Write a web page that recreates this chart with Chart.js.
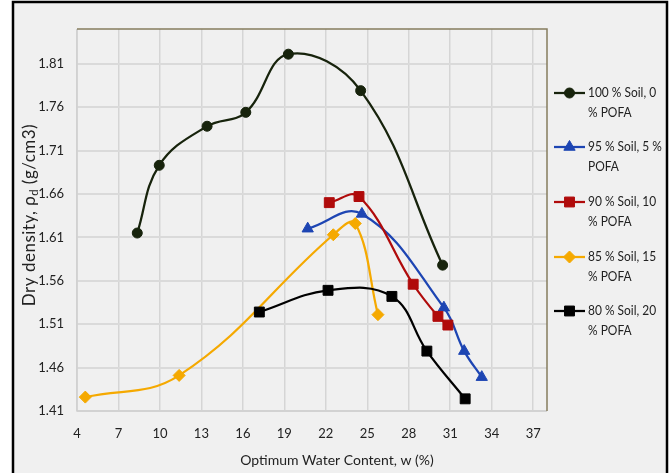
<!DOCTYPE html>
<html>
<head>
<meta charset="utf-8">
<script src="https://cdn.jsdelivr.net/npm/chart.js@4.4.1/dist/chart.umd.min.js"></script>
<style>
  html, body { margin: 0; padding: 0; background: #ffffff; }
  #wrap { width: 672px; height: 473px; position: relative; }
</style>
</head>
<body>
<div id="wrap"><canvas id="c" width="672" height="473"></canvas></div>
<script>
// Compaction curves: optimum water content (%) vs dry density (g/cm3)
const seriesLabels = [
  '100 % Soil, 0 % POFA',
  '95 % Soil, 5 % POFA',
  '90 % Soil, 10 % POFA',
  '85 % Soil, 15 % POFA',
  '80 % Soil, 20 % POFA'
];
// Legend text, broken where the legend wraps it
const legendLines = [
  ['100 % Soil, 0', '% POFA'],
  ['95 % Soil, 5 %', 'POFA'],
  ['90 % Soil, 10', '% POFA'],
  ['85 % Soil, 15', '% POFA'],
  ['80 % Soil, 20', '% POFA']
];

const soil100X = [8.36, 9.95, 13.41, 16.21, 19.29, 24.52, 30.45];
const soil100Y = [1.615, 1.693, 1.738, 1.754, 1.821, 1.779, 1.578];

const soil95X = [20.69, 24.61, 30.54, 32.01, 33.28];
const soil95Y = [1.620, 1.637, 1.529, 1.479, 1.449];

const soil90X = [22.25, 24.40, 28.32, 30.11, 30.83];
const soil90Y = [1.650, 1.657, 1.556, 1.519, 1.509];

const soil85X = [4.60, 11.39, 22.54, 24.13, 25.77];
const soil85Y = [1.426, 1.451, 1.613, 1.626, 1.521];

const soil80X = [17.19, 22.16, 26.78, 29.31, 32.08];
const soil80Y = [1.524, 1.549, 1.542, 1.479, 1.424];

const xTicks = [4, 7, 10, 13, 16, 19, 22, 25, 28, 31, 34, 37];
const yTicks = [1.41, 1.46, 1.51, 1.56, 1.61, 1.66, 1.71, 1.76, 1.81];

const xTitle = 'Optimum Water Content, w (%)';

const FONT = 'Lato, "Open Sans", "DejaVu Sans", sans-serif';
const TEXT = '#222222';

function pts(xs, ys) { return xs.map((x, i) => ({ x: x, y: ys[i] })); }

const styles = [
  { color: '#17230c', pointStyle: 'circle',   radius: 5 },
  { color: '#1d45b3', pointStyle: 'triangle', radius: 6.5 },
  { color: '#b00b0b', pointStyle: 'rect',     radius: 7 },
  { color: '#f5a900', pointStyle: 'rectRot',  radius: 6 },
  { color: '#000000', pointStyle: 'rect',     radius: 7 }
];
const seriesData = [
  pts(soil100X, soil100Y),
  pts(soil95X, soil95Y),
  pts(soil90X, soil90Y),
  pts(soil85X, soil85Y),
  pts(soil80X, soil80Y)
];

const datasets = seriesData.map((d, i) => ({
  label: seriesLabels[i],
  data: d,
  showLine: true,
  borderColor: styles[i].color,
  backgroundColor: styles[i].color,
  pointBackgroundColor: styles[i].color,
  pointBorderColor: styles[i].color,
  pointBorderWidth: 1,
  pointStyle: styles[i].pointStyle,
  pointRadius: styles[i].radius,
  pointHoverRadius: styles[i].radius,
  borderWidth: 2.25,
  tension: 0.4,
  order: 4 - i
}));

// Frame, plot border, axis titles and the two-line legend
const decorations = {
  id: 'decorations',
  beforeDraw(chart) {
    const ctx = chart.ctx;
    ctx.save();
    ctx.fillStyle = '#ffffff';
    ctx.fillRect(0, 0, chart.width, chart.height);
    ctx.fillStyle = '#f0f0f0';
    ctx.fillRect(13, 2, 654, chart.height);
    ctx.restore();
  },
  afterDatasetsDraw(chart) {
    const ctx = chart.ctx;
    const a = chart.chartArea;
    ctx.save();
    // plot border: light axis lines left/bottom, olive edges top/right
    ctx.lineWidth = 1.5;
    ctx.strokeStyle = '#cfcfcf';
    ctx.beginPath();
    ctx.moveTo(a.left, a.top);
    ctx.lineTo(a.left, a.bottom);
    ctx.lineTo(a.right, a.bottom);
    ctx.stroke();
    ctx.strokeStyle = '#857c5e';
    ctx.beginPath();
    ctx.moveTo(a.left, a.top);
    ctx.lineTo(a.right, a.top);
    ctx.lineTo(a.right, a.bottom);
    ctx.stroke();
    ctx.restore();
  },
  afterDraw(chart) {
    const ctx = chart.ctx;
    ctx.save();
    // outer frame
    ctx.strokeStyle = '#000000';
    ctx.lineWidth = 2.5;
    ctx.beginPath();
    ctx.moveTo(13, chart.height + 5);
    ctx.lineTo(13, 2);
    ctx.lineTo(667, 2);
    ctx.lineTo(667, chart.height + 5);
    ctx.stroke();

    // x axis title
    ctx.fillStyle = TEXT;
    ctx.font = '14px ' + FONT;
    ctx.textAlign = 'center';
    ctx.textBaseline = 'middle';
    ctx.fillText(xTitle, 337, 460);

    // y axis title with subscript d
    ctx.save();
    ctx.translate(30, 215);
    ctx.rotate(-Math.PI / 2);
    ctx.letterSpacing = '0.5px';
    const partA = 'Dry density, \u03C1';
    const partB = 'd';
    const partC = ' (g/cm3)';
    ctx.font = '17px ' + FONT;
    const wA = ctx.measureText(partA).width;
    const wC = ctx.measureText(partC).width;
    ctx.font = '11px ' + FONT;
    const wB = ctx.measureText(partB).width;
    const total = wA + wB + wC;
    const x0 = -total / 2;
    ctx.textAlign = 'left';
    ctx.font = '17px ' + FONT;
    ctx.fillText(partA, x0, 0);
    ctx.font = '11px ' + FONT;
    ctx.fillText(partB, x0 + wA, 4);
    ctx.font = '17px ' + FONT;
    ctx.fillText(partC, x0 + wA + wB, 0);
    ctx.restore();

    // legend
    const rowY = [93, 147, 202, 257, 311];
    chart.data.datasets.forEach((ds, i) => {
      const y = rowY[i];
      ctx.strokeStyle = ds.borderColor;
      ctx.lineWidth = 2.25;
      ctx.beginPath();
      ctx.moveTo(554, y);
      ctx.lineTo(585, y);
      ctx.stroke();
      ctx.fillStyle = ds.pointBackgroundColor;
      ctx.strokeStyle = ds.pointBorderColor;
      ctx.lineWidth = 1;
      Chart.helpers.drawPoint(ctx, {
        pointStyle: ds.pointStyle,
        radius: ds.pointRadius,
        rotation: 0,
        borderWidth: 1
      }, 569.5, y);
      ctx.save();
      ctx.translate(588, y);
      ctx.scale(0.92, 1);
      ctx.fillStyle = TEXT;
      ctx.font = '13px ' + FONT;
      ctx.textAlign = 'left';
      ctx.textBaseline = 'middle';
      ctx.fillText(legendLines[i][0], 0, 0);
      ctx.fillText(legendLines[i][1], 0, 20);
      ctx.restore();
    });
    ctx.restore();
  }
};

new Chart(document.getElementById('c'), {
  type: 'scatter',
  data: { datasets: datasets },
  options: {
    responsive: false,
    animation: false,
    devicePixelRatio: 1,
    layout: { padding: { left: 14, top: 29, right: 125, bottom: 0 } },
    plugins: {
      legend: { display: false },
      tooltip: { enabled: false },
      title: { display: false }
    },
    scales: {
      x: {
        type: 'linear',
        min: 4,
        max: 38,
        afterBuildTicks(scale) { scale.ticks = xTicks.map(v => ({ value: v })); },
        afterFit(scale) { scale.height = 62; },
        grid: { color: '#d5d5d5', lineWidth: 1.5, drawTicks: false },
        border: { display: false },
        ticks: {
          color: TEXT,
          padding: 15,
          maxRotation: 0,
          autoSkip: false,
          font: { family: FONT, size: 13 },
          callback: v => String(v)
        }
      },
      y: {
        type: 'linear',
        min: 1.41,
        max: 1.85,
        afterBuildTicks(scale) { scale.ticks = yTicks.map(v => ({ value: v })); },
        afterFit(scale) { scale.width = 63; },
        grid: { color: '#dadada', lineWidth: 2, drawTicks: false },
        border: { display: false },
        ticks: {
          color: TEXT,
          padding: 13,
          autoSkip: false,
          font: { family: FONT, size: 13 },
          callback: v => Number(v).toFixed(2)
        }
      }
    }
  },
  plugins: [decorations]
});
</script>
</body>
</html>
